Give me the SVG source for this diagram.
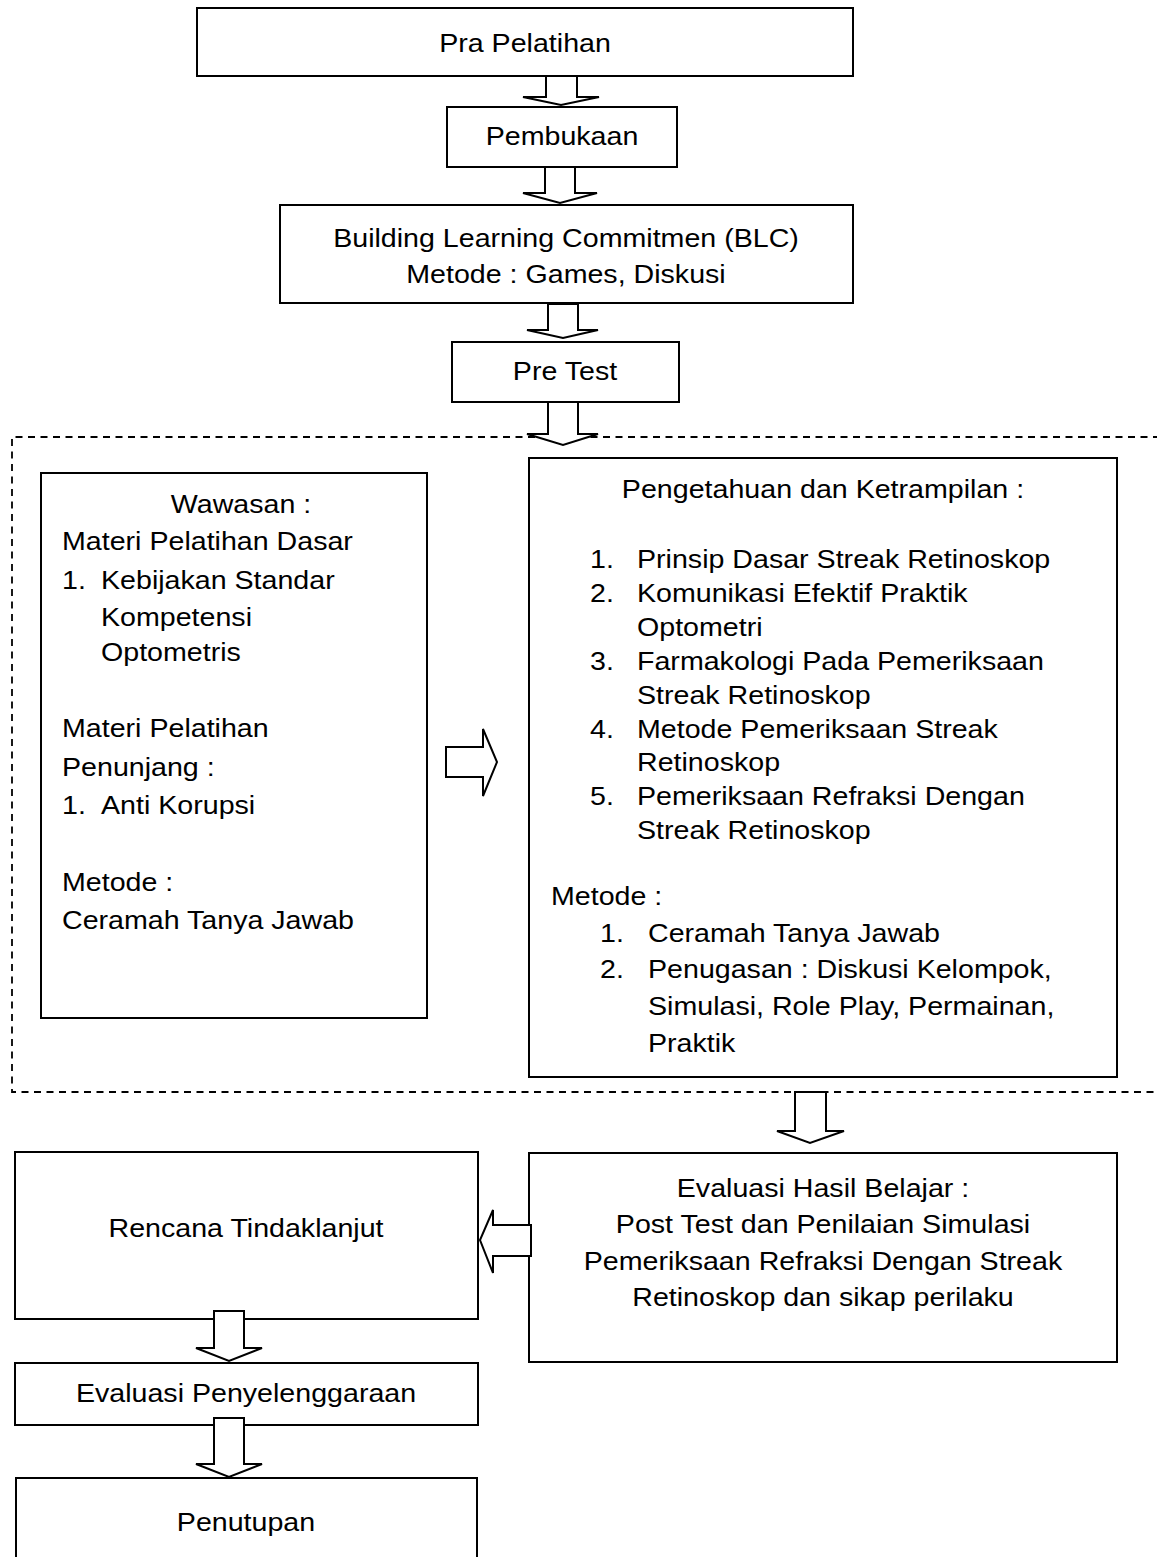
<svg xmlns="http://www.w3.org/2000/svg" width="1157" height="1557" viewBox="0 0 1157 1557">
<style>
.t{font-family:"Liberation Sans",Arial,sans-serif;font-size:26px;fill:#000}
.c{text-anchor:middle}
.box{fill:#fff;stroke:#000;stroke-width:2}
.arrow{fill:#fff;stroke:#000;stroke-width:2;stroke-linejoin:miter}
.dash{fill:none;stroke:#000;stroke-width:1.8;stroke-dasharray:7 5.5}
</style>
<rect width="1157" height="1557" fill="#fff"/>
<g id="frame">
<path class="dash" d="M1160,437 H12 V1092 H1160"/>
</g>
<g id="n-pra">
<rect class="box" x="197" y="8" width="656" height="68"/>
<text class="t c" transform="translate(525 52) scale(1.1 1)">Pra Pelatihan</text>
</g>
<g id="n-pembukaan">
<rect class="box" x="447" y="107" width="230" height="60"/>
<text class="t c" transform="translate(562 145) scale(1.1 1)">Pembukaan</text>
</g>
<g id="n-blc">
<rect class="box" x="280" y="205" width="573" height="98"/>
<text class="t c" transform="translate(566 247) scale(1.1 1)">Building Learning Commitmen (BLC)</text>
<text class="t c" transform="translate(566 283) scale(1.1 1)">Metode : Games, Diskusi</text>
</g>
<g id="n-pretest">
<rect class="box" x="452" y="342" width="227" height="60"/>
<text class="t c" transform="translate(565 380) scale(1.1 1)">Pre Test</text>
</g>
<g id="n-wawasan">
<rect class="box" x="41" y="473" width="386" height="545"/>
<text class="t c" transform="translate(241 513) scale(1.1 1)">Wawasan :</text>
<text class="t" transform="translate(62 550) scale(1.1 1)">Materi Pelatihan Dasar</text>
<text class="t" transform="translate(62 589) scale(1.1 1)">1.</text>
<text class="t" transform="translate(101 589) scale(1.1 1)">Kebijakan Standar</text>
<text class="t" transform="translate(101 626) scale(1.1 1)">Kompetensi</text>
<text class="t" transform="translate(101 661) scale(1.1 1)">Optometris</text>
<text class="t" transform="translate(62 737) scale(1.1 1)">Materi Pelatihan</text>
<text class="t" transform="translate(62 776) scale(1.1 1)">Penunjang :</text>
<text class="t" transform="translate(62 814) scale(1.1 1)">1.</text>
<text class="t" transform="translate(101 814) scale(1.1 1)">Anti Korupsi</text>
<text class="t" transform="translate(62 891) scale(1.1 1)">Metode :</text>
<text class="t" transform="translate(62 929) scale(1.1 1)">Ceramah Tanya Jawab</text>
</g>
<g id="n-pengetahuan">
<rect class="box" x="529" y="458" width="588" height="619"/>
<text class="t c" transform="translate(823 498) scale(1.1 1)">Pengetahuan dan Ketrampilan :</text>
<text class="t" transform="translate(590 568) scale(1.1 1)">1.</text>
<text class="t" transform="translate(637 568) scale(1.1 1)">Prinsip Dasar Streak Retinoskop</text>
<text class="t" transform="translate(590 602) scale(1.1 1)">2.</text>
<text class="t" transform="translate(637 602) scale(1.1 1)">Komunikasi Efektif Praktik</text>
<text class="t" transform="translate(637 636) scale(1.1 1)">Optometri</text>
<text class="t" transform="translate(590 670) scale(1.1 1)">3.</text>
<text class="t" transform="translate(637 670) scale(1.1 1)">Farmakologi Pada Pemeriksaan</text>
<text class="t" transform="translate(637 704) scale(1.1 1)">Streak Retinoskop</text>
<text class="t" transform="translate(590 738) scale(1.1 1)">4.</text>
<text class="t" transform="translate(637 738) scale(1.1 1)">Metode Pemeriksaan Streak</text>
<text class="t" transform="translate(637 771) scale(1.1 1)">Retinoskop</text>
<text class="t" transform="translate(590 805) scale(1.1 1)">5.</text>
<text class="t" transform="translate(637 805) scale(1.1 1)">Pemeriksaan Refraksi Dengan</text>
<text class="t" transform="translate(637 839) scale(1.1 1)">Streak Retinoskop</text>
<text class="t" transform="translate(551 905) scale(1.1 1)">Metode :</text>
<text class="t" transform="translate(600 942) scale(1.1 1)">1.</text>
<text class="t" transform="translate(648 942) scale(1.1 1)">Ceramah Tanya Jawab</text>
<text class="t" transform="translate(600 978) scale(1.1 1)">2.</text>
<text class="t" transform="translate(648 978) scale(1.1 1)">Penugasan : Diskusi Kelompok,</text>
<text class="t" transform="translate(648 1015) scale(1.1 1)">Simulasi, Role Play, Permainan,</text>
<text class="t" transform="translate(648 1052) scale(1.1 1)">Praktik</text>
</g>
<g id="n-evaluasi-hasil">
<rect class="box" x="529" y="1153" width="588" height="209"/>
<text class="t c" transform="translate(823 1197) scale(1.1 1)">Evaluasi Hasil Belajar :</text>
<text class="t c" transform="translate(823 1233) scale(1.1 1)">Post Test dan Penilaian Simulasi</text>
<text class="t c" transform="translate(823 1270) scale(1.1 1)">Pemeriksaan Refraksi Dengan Streak</text>
<text class="t c" transform="translate(823 1306) scale(1.1 1)">Retinoskop dan sikap perilaku</text>
</g>
<g id="n-rencana">
<rect class="box" x="15" y="1152" width="463" height="167"/>
<text class="t c" transform="translate(246 1237) scale(1.1 1)">Rencana Tindaklanjut</text>
</g>
<g id="n-evaluasi-penyelenggaraan">
<rect class="box" x="15" y="1363" width="463" height="62"/>
<text class="t c" transform="translate(246 1402) scale(1.1 1)">Evaluasi Penyelenggaraan</text>
</g>
<g id="n-penutupan">
<rect class="box" x="16" y="1478" width="461" height="100"/>
<text class="t c" transform="translate(246 1531) scale(1.1 1)">Penutupan</text>
</g>
<g id="connectors">
<polygon class="arrow" points="546,76 577,76 577,97 599,97 561,105 523,97 546,97"/>
<polygon class="arrow" points="545,167 575,167 575,193 597,193 560,203 523,193 545,193"/>
<polygon class="arrow" points="548,304 578,304 578,330 598,330 563,338 527,330 548,330"/>
<polygon class="arrow" points="548,402 578,402 578,434 598,434 563,445 527,434 548,434"/>
<polygon class="arrow" points="446,747 483,747 483,729 497,762 483,796 483,777 446,777"/>
<polygon class="arrow" points="795,1092 826,1092 826,1131 844,1131 810,1143 777,1131 795,1131"/>
<polygon class="arrow" points="531,1225 493,1225 493,1210 480,1240 493,1273 493,1256 531,1256"/>
<polygon class="arrow" points="214,1311 244,1311 244,1348 262,1348 229,1361 196,1348 214,1348"/>
<polygon class="arrow" points="214,1418 244,1418 244,1464 262,1464 229,1477 196,1464 214,1464"/>
</g>
</svg>
